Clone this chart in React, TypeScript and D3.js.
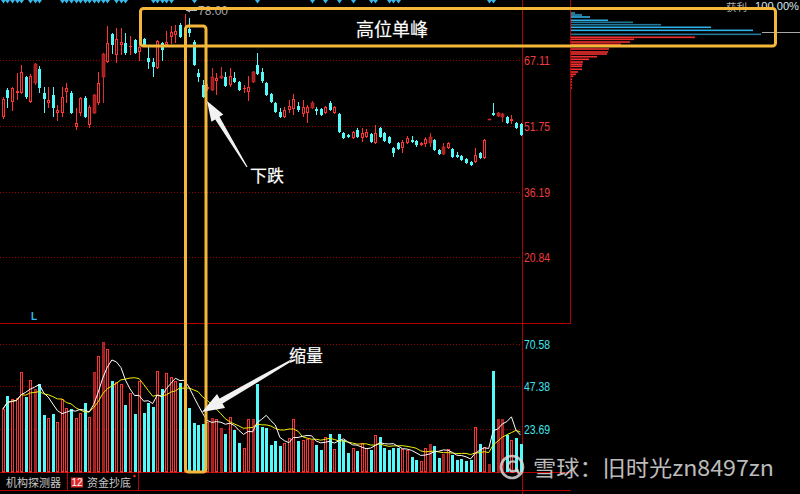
import React from 'react';
import * as d3 from 'd3';

// [open, high, low, close]
const candles: [number, number, number, number][] = [
  [53.8, 58.5, 53.3, 58.0], [60.13, 60.6, 55.9, 58.25], [57.31, 60.83, 55.2, 60.6], [59.42, 64.12, 57.78, 59.89],
  [59.42, 66.0, 59.2, 64.36], [63.18, 63.5, 58.0, 58.49], [57.31, 63.9, 57.1, 63.42], [61.77, 66.47, 61.3, 66.24],
  [65.06, 65.77, 59.42, 60.6], [59.42, 60.83, 54.73, 58.02], [57.08, 60.83, 55.9, 57.78], [58.96, 60.83, 53.79, 55.9],
  [54.73, 56.61, 52.85, 55.43], [54.73, 60.83, 53.79, 58.49], [59.66, 61.77, 57.08, 60.6], [59.42, 59.9, 54.5, 54.73],
  [51.44, 55.9, 50.73, 52.38], [54.73, 58.49, 54.02, 58.25], [58.25, 58.72, 53.55, 53.79], [51.91, 56.61, 51.2, 56.14],
  [54.73, 59.2, 54.5, 58.96], [57.08, 64.36, 56.61, 61.77], [63.18, 68.82, 57.08, 68.59], [66.71, 75.16, 66.47, 71.17],
  [73.28, 73.52, 68.59, 70.7], [68.35, 74.69, 66.47, 72.11], [70.7, 74.69, 68.35, 71.4], [71.17, 73.52, 68.35, 68.82],
  [70.23, 72.81, 68.35, 70.46], [71.87, 72.1, 68.6, 68.82], [69.06, 72.34, 66.94, 70.23], [72.11, 72.3, 70.5, 70.7],
  [67.65, 70.23, 65.06, 66.71], [66.71, 67.65, 63.18, 65.53], [65.3, 71.9, 65.1, 71.64], [71.17, 71.3, 66.94, 69.53],
  [70.7, 73.99, 70.23, 71.4], [72.58, 75.16, 70.93, 73.75], [73.05, 75.4, 71.17, 73.99], [75.4, 75.87, 72.34, 72.58],
  [73.3, 78.0, 73.0, 74.0], [74.46, 77.04, 72.58, 73.52], [71.4, 71.9, 65.8, 66.0], [64.12, 65.06, 62.01, 63.18],
  [61.31, 62.48, 58.25, 58.49], [60.4, 61.5, 59.8, 60.8], [60.13, 65.3, 59.9, 63.18], [62.24, 64.12, 58.96, 62.95],
  [62.95, 65.53, 62.7, 63.42], [63.18, 64.36, 60.8, 61.07], [61.31, 65.3, 60.83, 63.42], [62.95, 64.36, 61.77, 62.01],
  [62.01, 62.3, 59.9, 60.13], [60.36, 61.31, 59.42, 60.6], [59.66, 63.42, 57.55, 60.83], [62.01, 64.6, 61.8, 64.36],
  [66.0, 68.82, 63.6, 63.89], [64.36, 65.3, 61.8, 62.24], [61.77, 62.0, 58.7, 58.96], [59.19, 59.4, 57.1, 57.31],
  [57.08, 57.3, 54.7, 54.96], [54.96, 55.9, 53.55, 53.79], [53.79, 56.14, 53.6, 55.43], [55.43, 57.78, 54.73, 56.37],
  [55.67, 59.19, 54.26, 58.02], [56.37, 57.31, 54.96, 55.43], [54.49, 57.78, 53.79, 56.14], [54.73, 56.61, 52.38, 56.14],
  [55.9, 57.55, 55.7, 57.08], [55.67, 56.14, 54.26, 55.2], [55.67, 56.0, 54.0, 54.26], [54.73, 56.4, 54.5, 56.14],
  [57.08, 57.55, 55.2, 55.43], [54.73, 56.37, 54.5, 56.14], [54.49, 54.7, 50.0, 50.26], [50.03, 50.26, 48.62, 48.85],
  [49.56, 49.8, 48.85, 49.09], [48.85, 50.5, 48.6, 50.26], [50.73, 51.2, 48.85, 49.09], [48.85, 51.2, 47.9, 50.03],
  [49.09, 50.97, 48.9, 50.26], [49.79, 50.0, 47.7, 47.91], [47.68, 51.91, 47.45, 50.03], [51.2, 51.44, 48.85, 49.09],
  [50.03, 50.3, 47.9, 48.15], [49.09, 49.3, 47.45, 47.68], [46.51, 46.74, 44.39, 45.33], [47.68, 47.9, 46.0, 46.27],
  [46.51, 48.39, 45.33, 47.91], [47.68, 49.32, 47.45, 48.85], [48.39, 49.32, 47.68, 47.91], [48.15, 48.39, 46.74, 47.21],
  [47.21, 47.9, 47.0, 47.68], [47.45, 49.09, 46.74, 48.62], [47.68, 50.03, 46.74, 49.09], [48.39, 48.6, 45.8, 46.04],
  [46.04, 46.3, 44.9, 45.1], [45.1, 47.68, 44.9, 46.74], [46.51, 47.9, 46.3, 47.68], [46.27, 46.5, 44.2, 44.39],
  [44.86, 45.57, 44.2, 44.39], [44.63, 44.9, 43.45, 43.69], [43.92, 44.2, 42.75, 42.98], [43.22, 43.45, 42.28, 42.52],
  [43.22, 46.51, 42.98, 44.86], [45.33, 45.57, 43.92, 44.16], [44.16, 48.6, 44.0, 48.39], [53.23, 53.23, 53.23, 53.23],
  [54.73, 57.08, 54.0, 54.26], [54.0, 54.96, 53.79, 54.7], [53.8, 54.73, 52.6, 54.5], [53.79, 54.0, 52.2, 52.38],
  [52.9, 54.26, 52.1, 53.3], [52.38, 52.6, 51.0, 51.2], [52.15, 52.4, 49.3, 49.56],
];

const volumes: number[] = [
  34.7, 41.8, 40.2, 40.7, 54.9, 41.3, 50.6, 45.6, 48.4, 31.4,
  29.7, 31.9, 27.5, 40.2, 35.2, 34.7, 29.7, 32.5, 38.0, 30.3,
  55.0, 63.7, 71.4, 67.6, 50.1, 49.5, 48.4, 36.9, 43.5, 31.9,
  50.0, 32.5, 38.0, 35.8, 55.5, 45.6, 54.4, 52.2, 50.0, 48.9,
  46.7, 35.2, 27.0, 25.9, 26.4, 27.5, 29.7, 29.2, 24.2, 20.9,
  30.3, 23.1, 16.0, 13.3, 29.2, 29.2, 48.4, 25.0, 24.1, 14.9,
  17.1, 14.4, 15.9, 18.6, 29.2, 17.1, 17.7, 18.0, 17.7, 14.9,
  12.2, 19.1, 21.0, 12.7, 21.0, 17.7, 10.4, 13.4, 11.6, 15.9,
  13.1, 12.2, 20.4, 19.5, 13.1, 12.2, 13.1, 13.4, 12.6, 12.2,
  8.5, 6.7, 6.1, 13.4, 15.5, 14.4, 8.0, 9.8, 12.6, 9.4,
  6.7, 7.2, 6.3, 6.7, 24.6, 15.3, 14.0, 4.5, 55.5, 29.0,
  29.3, 20.4, 17.7, 18.9, 15.5,
];

const solidUp = [7, 20, 22, 46, 48, 55, 68, 94, 97, 107, 109, 110];
const signalIdx = [0, 1, 2, 3, 4, 6, 7, 8, 13, 14, 15, 16, 17, 18, 19, 20, 21, 22, 23, 25, 26, 27, 33, 34, 35, 36, 37, 42, 56, 68, 71, 74, 77, 81, 82, 85, 86, 87, 107, 108];

const priceTicks = [67.11, 51.75, 36.19, 20.84];
const volTicks = [70.58, 47.38, 23.69];

const chipPrice = [78.29, 77.82, 77.28, 76.5, 76.03, 75.47, 74.86, 74.15, 73.21, 72.51, 72.04, 71.4, 70.86, 69.76, 69.06, 68.59, 67.95, 67.34, 66.71, 66.17, 65.7, 65.0, 64.36, 63.82, 63.35, 62.64, 62.01, 61.3, 60.6];
const chipPct = [0.21, 0.58, 1.0, 1.95, 3.26, 4.74, 7.37, 9.58, 10.0, 6.53, 3.32, 3.11, 2.63, 2.0, 1.95, 1.89, 1.37, 0.95, 0.63, 0.61, 0.58, 0.58, 0.37, 0.26, 0.13, 0.05, 0.05, 0.05, 0.05];
const chipLossCount = 9;
const avgCost = 73.68;
const peakPrice = 78.0;

const RED = '#ff3333';
const CYAN = '#54fafa';
const DRED_FILL = '#a31f1f';
const DRED_STROKE = '#d83030';
const GRID = '#9a0000';
const AXIS = '#b40000';
const BOX = '#f4b73a';

function arrowPts(tip: [number, number], tail: [number, number], headLen: number, headW: number, shaftW: number, tailW: number) {
  const dx = tip[0] - tail[0], dy = tip[1] - tail[1];
  const L = Math.hypot(dx, dy);
  const ux = dx / L, uy = dy / L;
  const nx = -uy, ny = ux;
  const bx = tip[0] - ux * headLen, by = tip[1] - uy * headLen;
  const pts: [number, number][] = [
    tip,
    [bx + nx * headW, by + ny * headW],
    [bx + nx * shaftW, by + ny * shaftW],
    [tail[0] + nx * tailW, tail[1] + ny * tailW],
    [tail[0] - nx * tailW, tail[1] - ny * tailW],
    [bx - nx * shaftW, by - ny * shaftW],
    [bx - nx * headW, by - ny * headW],
  ];
  return pts.map((p) => p.join(',')).join(' ');
}

export default function App() {
  const W = 800, H = 494;
  const n = candles.length;
  const x = d3.scaleLinear().domain([0, n - 1]).range([2.9, 520.5]);
  const yP = d3.scaleLinear().domain([20.84, 67.11]).range([257.3, 60.3]);
  const yV = d3.scaleLinear().domain([0, 70.58]).range([472.2, 343.5]);
  const chipX = d3.scaleLinear().domain([0, 10]).range([571, 761]);
  const volBase = 472;

  const ma = (k: number) => volumes.map((_, i) => d3.mean(volumes.slice(Math.max(0, i - k + 1), i + 1)) as number);
  const ma5 = ma(5), ma10 = ma(10);
  const line = d3.line<number>().x((_, i) => x(i)).y((v) => yV(v));

  const isUp = (i: number) => candles[i][3] >= candles[i][0];
  const solidSet = new Set(solidUp);

  const cjk = '"Noto Sans CJK SC", "Noto Sans", sans-serif';
  const num = '"Liberation Sans", Arial, sans-serif';

  return (
    <svg width={W} height={H} style={{ position: 'absolute', left: 0, top: 0, display: 'block', background: '#000' }}>
      <rect x={0} y={0} width={W} height={H} fill="#000" />

      {/* grid lines */}
      {priceTicks.map((t) => (
        <line key={'pg' + t} x1={0} x2={522} y1={Math.round(yP(t)) + 0.5} y2={Math.round(yP(t)) + 0.5} stroke={GRID} strokeDasharray="1 2" />
      ))}
      {volTicks.map((t) => (
        <line key={'vg' + t} x1={0} x2={522} y1={Math.round(yV(t)) + 0.5} y2={Math.round(yV(t)) + 0.5} stroke={GRID} strokeDasharray="1 2" />
      ))}

      {/* frame lines */}
      <line x1={522.5} x2={522.5} y1={0} y2={H} stroke={AXIS} />
      <line x1={570.5} x2={570.5} y1={0} y2={323} stroke={AXIS} />
      <line x1={0} x2={571} y1={323.5} y2={323.5} stroke={AXIS} />
      <line x1={0} x2={571} y1={472.5} y2={472.5} stroke={AXIS} />
      <line x1={0} x2={571} y1={490.5} y2={490.5} stroke={AXIS} />

      {/* signals at top */}
      {signalIdx.map((i) => {
        const cx = Math.round(x(i)) + 0.5;
        return <path key={'s' + i} d={`M${cx - 2.5},0 L${cx + 2.5},0 L${cx},3.5 Z`} fill="#39b8ea" />;
      })}

      {/* candles */}
      {candles.map(([o, h, l, c], i) => {
        const cx = Math.round(x(i));
        const up = c >= o;
        const top = Math.round(yP(Math.max(o, c)));
        const bot = Math.max(Math.round(yP(Math.min(o, c))), top + 1);
        const hi = Math.round(yP(h));
        const lo = Math.round(yP(l));
        if (up && !solidSet.has(i)) {
          return (
            <g key={'c' + i}>
              {hi < top && <line x1={cx + 0.5} x2={cx + 0.5} y1={hi} y2={top} stroke={RED} />}
              {lo > bot && <line x1={cx + 0.5} x2={cx + 0.5} y1={bot} y2={lo} stroke={RED} />}
              {bot - top <= 1 ? (
                <line x1={cx - 1} x2={cx + 2} y1={top + 0.5} y2={top + 0.5} stroke={RED} />
              ) : (
                <rect x={cx - 0.5} y={top + 0.5} width={2} height={bot - top - 1} fill="#000" stroke={RED} />
              )}
            </g>
          );
        }
        const fill = up ? DRED_FILL : CYAN;
        const wick = up ? DRED_STROKE : CYAN;
        return (
          <g key={'c' + i}>
            <line x1={cx + 0.5} x2={cx + 0.5} y1={hi} y2={lo} stroke={wick} />
            <rect x={cx - 1} y={top} width={3} height={bot - top} fill={fill} stroke={up ? DRED_STROKE : 'none'} strokeWidth={up ? 0.6 : 0} />
          </g>
        );
      })}

      {/* peak label */}
      <line x1={Math.round(x(40)) + 1} x2={Math.round(x(40)) + 12} y1={Math.round(yP(peakPrice)) - 3.5} y2={Math.round(yP(peakPrice)) - 3.5} stroke="#b8b8b8" />
      <path d={`M${Math.round(x(40)) + 1},${Math.round(yP(peakPrice)) - 3.5} l4,-2 l0,4 z`} fill="#b8b8b8" />
      <text x={Math.round(x(40)) + 13} y={Math.round(yP(peakPrice)) + 0.5} fontFamily={num} fontSize={12} fill="#a8a8a8">{peakPrice.toFixed(2)}</text>

      {/* volume bars */}
      {volumes.map((v, i) => {
        const cx = Math.round(x(i));
        const top = Math.round(yV(v));
        const up = isUp(i);
        if (up && !solidSet.has(i)) {
          return <rect key={'v' + i} x={cx - 0.5} y={top + 0.5} width={2} height={volBase - top - 0.5} fill="#000" stroke={RED} />;
        }
        if (up) {
          return <rect key={'v' + i} x={cx - 0.7} y={top + 0.3} width={2.4} height={volBase - top} fill={DRED_FILL} stroke={DRED_STROKE} strokeWidth={0.6} />;
        }
        return <rect key={'v' + i} x={cx - 1} y={top} width={3} height={volBase - top} fill={CYAN} />;
      })}

      {/* MA lines */}
      <path d={line(ma10) || ''} fill="none" stroke="#f0f000" strokeWidth={1} />
      <path d={line(ma5) || ''} fill="none" stroke="#ffffff" strokeWidth={1} />

      {/* axis labels */}
      {priceTicks.map((t) => (
        <text key={'pl' + t} x={524} y={Math.round(yP(t)) + 4.5} fontFamily={num} fontSize={12} fill="#f03c3c" textLength={26} lengthAdjust="spacingAndGlyphs">{t.toFixed(2)}</text>
      ))}
      {volTicks.map((t) => (
        <text key={'vl' + t} x={524} y={Math.round(yV(t)) + 4.5} fontFamily={num} fontSize={12} fill="#40e4f0" textLength={26} lengthAdjust="spacingAndGlyphs">{t.toFixed(2)}</text>
      ))}

      {/* chip distribution */}
      {chipPrice.map((p, i) => {
        const loss = i < chipLossCount;
        const col = loss ? (i === 2 || i === 3 || i === 6 || i === 7 ? '#2fb2e8' : '#22789a') : '#f03030';
        const yy = yP(p);
        return <rect key={'ch' + i} x={571} y={yy - 0.8} width={Math.max(1, chipX(chipPct[i]) - 571)} height={i < 2 ? 2.2 : 1.6} fill={col} />;
      })}
      <line x1={762} x2={800} y1={Math.round(yP(avgCost)) + 0.5} y2={Math.round(yP(avgCost)) + 0.5} stroke="#a8a8a8" />
      <text x={726} y={11} fontFamily={cjk} fontSize={10.5} fill="#b0b0b0">获利</text>
      <text x={755} y={10} fontFamily={num} fontSize={11.5} fill="#d8e8f0" textLength={44} lengthAdjust="spacingAndGlyphs">100.00%</text>

      {/* L marker */}
      <text x={31} y={320} fontFamily={num} fontSize={10} fontWeight="bold" fill="#30b8f0">L</text>

      {/* bottom tabs */}
      <line x1={67.5} x2={67.5} y1={473} y2={490} stroke={AXIS} />
      <line x1={138.5} x2={138.5} y1={473} y2={490} stroke={AXIS} />
      <text x={6} y={486.5} fontFamily={cjk} fontSize={11} fill="#c8c8c8">机构探测器</text>
      <rect x={71} y={477.5} width={12} height={10} fill="#e02828" />
      <text x={77} y={486} fontFamily={num} fontSize={10} fill="#ffffff" textAnchor="middle">12</text>
      <text x={87} y={486.5} fontFamily={cjk} fontSize={11} fill="#c8c8c8">资金抄底</text>
      <circle cx={134.5} cy={476} r={1.2} fill="#ff3030" />

      {/* annotation boxes */}
      <rect x={140.5} y={8.5} width={635} height={37.5} rx={3} fill="none" stroke={BOX} strokeWidth={3} />
      <rect x={185.5} y={26} width={20.5} height={446} rx={3} fill="none" stroke={BOX} strokeWidth={3} />

      {/* annotation arrows */}
      <polygon points={arrowPts([207, 101], [247, 167], 20, 7, 2.5, 0.6)} fill="#f2f2f2" />
      <polygon points={arrowPts([202, 412], [292, 360], 22, 8, 3, 1)} fill="#f2f2f2" />

      {/* annotation texts */}
      <text x={392} y={36} textAnchor="middle" fontFamily={cjk} fontSize={18} fill="#ffffff" stroke="#555" strokeWidth={0.6} paintOrder="stroke">高位单峰</text>
      <text x={250} y={182} fontFamily={cjk} fontSize={17} fill="#ffffff" stroke="#555" strokeWidth={0.6} paintOrder="stroke">下跌</text>
      <text x={289} y={362} fontFamily={cjk} fontSize={17} fill="#ffffff" stroke="#555" strokeWidth={0.6} paintOrder="stroke">缩量</text>

      {/* watermark */}
      <g opacity={0.85}>
        <circle cx={512} cy={467} r={11} fill="none" stroke="#d8d8d8" strokeWidth={2.6} />
        <path d="M516.5,463 A5,5 0 1 0 517,469 L519.5,475" fill="none" stroke="#d8d8d8" strokeWidth={2.4} />
        <text x={533} y={476} fontFamily={cjk} fontSize={22} fill="#dcdcdc" textLength={241} lengthAdjust="spacingAndGlyphs">雪球：旧时光zn8497zn</text>
      </g>
    </svg>
  );
}
